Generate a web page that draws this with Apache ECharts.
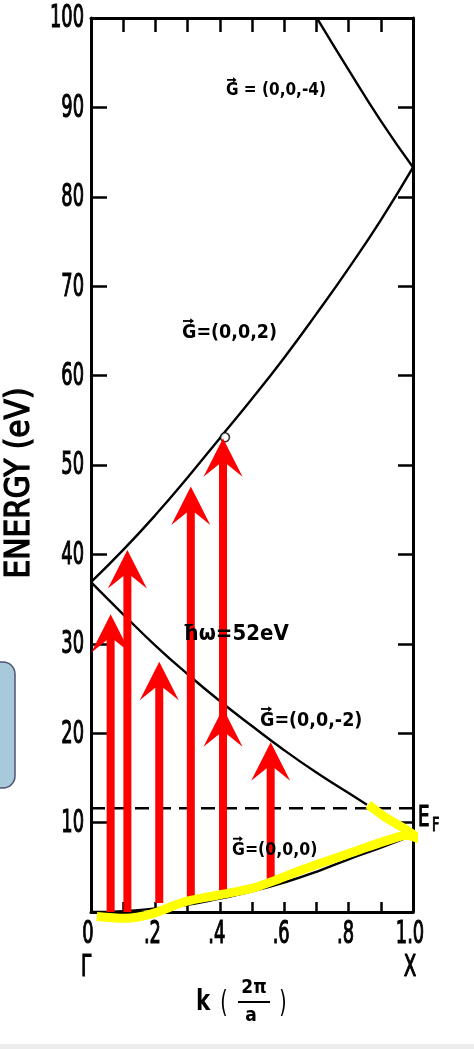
<!DOCTYPE html>
<html>
<head>
<meta charset="utf-8">
<script src="https://cdn.jsdelivr.net/npm/echarts@6/dist/echarts.min.js"></script>
<style>
  html, body { margin: 0; padding: 0; background: #fff; }
  #chart { width: 474px; height: 1049px; }
</style>
</head>
<body>
<div id="chart"></div>
<script>
// Free-electron bands along Γ–X; k in units of 2π/a, energies in eV.
const kGrid = [0, 0.1, 0.2, 0.3, 0.4, 0.5, 0.6, 0.7, 0.8, 0.9, 1.0];
const bandG000 = [0, 0.1, 0.4, 0.8, 1.5, 2.3, 3.3, 4.5, 5.9, 7.2, 8.6];
const bandG002 = [36.9, 40.5, 44.4, 48.6, 53.0, 57.4, 62.0, 66.9, 72.0, 77.4, 83.3];
const bandG00m2K = [0, 0.1, 0.2, 0.3, 0.4, 0.5, 0.6, 0.7, 0.8, 0.857];
const bandG00m2 = [36.9, 33.3, 29.8, 26.6, 23.6, 20.8, 18.1, 15.6, 13.3, 12.0];
const bandG00m4K = [0.705, 0.8, 0.9, 1.0];
const bandG00m4 = [99.8, 94.2, 88.5, 83.3];
const fermiEnergy = 11.6;
const markedPoint = [0.416, 53.1];

// Vertical transitions (hω = 52 eV)
const arrowK = [0.061, 0.113, 0.212, 0.310, 0.410, 0.558];
const arrowFrom = [0, 0, 1.0, 1.3, 2.1, 3.6];
const arrowTo = [33.3, 40.5, 28.0, 47.6, 53.0, 19.0];
const midHeadK = [0.410];
const midHeadE = [22.8];

// Highlighted occupied band (hand-drawn stroke)
const occK = [0.018, 0.106, 0.188, 0.292, 0.395, 0.499, 0.561, 0.654, 0.758, 0.861, 0.954, 0.985];
const occE = [-0.5, -0.7, -0.2, 1.15, 1.9, 2.65, 3.4, 4.7, 6.0, 7.3, 8.4, 8.6];
const hookK = [0.985, 1.025, 0.975, 0.913, 0.861];
const hookE = [8.6, 8.1, 9.3, 10.6, 12.0];

// Tick labels
const xTickValues = [0, 0.2, 0.4, 0.6, 0.8, 1.0];
const xTickText = ['0', '.2', '.4', '.6', '.8', '1.0'];
const yTickValues = [10, 20, 30, 40, 50, 60, 70, 80, 90, 100];
const yTickText = ['10', '20', '30', '40', '50', '60', '70', '80', '90', '100'];

const pairs = (xs, ys) => xs.map((x, i) => [x, ys[i]]);

const condFont = "'DejaVu Sans Condensed', 'DejaVu Sans', sans-serif";
const RED = '#ff0000';

const chart = echarts.init(document.getElementById('chart'), null, { renderer: 'canvas' });

const blackLine = { color: '#000', width: 2.4 };

function arrowShape(x, yTip, yBase, withShaft) {
  const hw = 4, headL = 38.5, headW = 19.5, notch = 26;
  const kids = [];
  if (withShaft) {
    kids.push({
      type: 'rect',
      shape: { x: x - hw, y: yTip + notch - 2, width: hw * 2, height: yBase - (yTip + notch - 2) },
      style: { fill: RED }
    });
  }
  kids.push({
    type: 'polygon',
    shape: { points: [[x, yTip], [x + headW, yTip + headL], [x + hw, yTip + notch], [x - hw, yTip + notch], [x - headW, yTip + headL]] },
    style: { fill: RED }
  });
  return kids;
}

function txt(text, x, y, size, opts) {
  opts = opts || {};
  const style = {
    text: text, fill: '#000',
    fontSize: size, fontWeight: opts.weight || 'normal', fontFamily: opts.family || condFont,
    align: opts.align || 'center', verticalAlign: 'middle', rich: opts.rich
  };
  if (opts.heavy) {
    style.stroke = '#000';
    style.lineWidth = opts.heavy;
  }
  return { type: 'text', x: x, y: y, rotation: opts.rotation || 0, scaleX: opts.scaleX || 1, z: 5, style: style };
}

// "G" with an over-arrow followed by the reciprocal-lattice vector
function gLabel(text, x, y, size) {
  const ay = y - size * 0.36 - 5;
  return [
    txt(text, x, y, size, { weight: 'bold', align: 'left' }),
    { type: 'line', shape: { x1: x + 1, y1: ay, x2: x + size * 0.5, y2: ay }, style: { stroke: '#000', lineWidth: 1.8 }, z: 5 },
    { type: 'polygon', shape: { points: [[x + size * 0.62, ay], [x + size * 0.42, ay - 2.8], [x + size * 0.42, ay + 2.8]] }, style: { fill: '#000' }, z: 5 }
  ];
}

const graphics = [
  // side tab at the left edge
  { type: 'rect', shape: { x: -14, y: 662, width: 29, height: 126, r: 12 }, style: { fill: '#a8c9da', stroke: '#4f5377', lineWidth: 1.5 } },
  // faint band along the bottom edge
  { type: 'rect', shape: { x: 0, y: 1044, width: 474, height: 5 }, style: { fill: '#ececec' } },
  // axis title (vertical)
  txt('ENERGY (eV)', 20, 483, 33, { rotation: Math.PI / 2, heavy: 1.2 }),
  // symmetry points
  txt('Γ', 86, 968, 31, { scaleX: 0.66, heavy: 1.2 }),
  txt('X', 410, 968, 31, { scaleX: 0.66, heavy: 1.2 }),
  // k (2π/a)
  txt('k', 203, 1003, 28, { weight: 'bold', scaleX: 0.85 }),
  txt('(', 224, 1004, 30, { scaleX: 0.7 }),
  txt('2π', 254, 988, 19, { weight: 'bold' }),
  { type: 'line', shape: { x1: 238, y1: 1002, x2: 270, y2: 1002 }, style: { stroke: '#000', lineWidth: 2 } },
  txt('a', 251, 1016, 19, { weight: 'bold' }),
  txt(')', 283, 1004, 30, { scaleX: 0.7 }),
  // Fermi level
  txt('E', 418, 818, 29, { align: 'left', scaleX: 0.7, heavy: 1.1 }),
  txt('F', 432, 826, 19, { align: 'left', scaleX: 0.75, heavy: 0.9 }),
  // photon energy
  txt('ħω=52eV', 183, 634, 22, { weight: 'bold', align: 'left' })
]
  .concat(gLabel('G = (0,0,-4)', 226, 91, 17))
  .concat(gLabel('G=(0,0,2)', 182, 333, 19.5))
  .concat(gLabel('G=(0,0,-2)', 260, 721, 19.5))
  .concat(gLabel('G=(0,0,0)', 232, 850, 17.5));

const option = {
  animation: false,
  backgroundColor: '#ffffff',
  grid: { left: 91, right: 61, top: 18, bottom: 137, containLabel: false },
  xAxis: [
    {
      type: 'value', position: 'bottom', min: 0, max: 1, interval: 0.1,
      axisLine: { show: true, onZero: false, lineStyle: { color: '#000', width: 3 } },
      axisTick: { show: true, inside: true, length: 10, lineStyle: { color: '#000', width: 2.5 } },
      axisLabel: { show: false },
      splitLine: { show: false }
    },
    {
      type: 'value', position: 'top', min: 0, max: 1, interval: 0.1,
      axisLine: { show: true, onZero: false, lineStyle: { color: '#000', width: 3 } },
      axisTick: { show: true, inside: true, length: 14, lineStyle: { color: '#000', width: 2.5 } },
      axisLabel: { show: false },
      splitLine: { show: false }
    }
  ],
  yAxis: [
    {
      type: 'value', position: 'left', min: 0, max: 100, interval: 10,
      axisLine: { show: true, onZero: false, lineStyle: { color: '#000', width: 3 } },
      axisTick: { show: true, inside: true, length: 16, lineStyle: { color: '#000', width: 2.5 } },
      axisLabel: { show: false },
      splitLine: { show: false }
    },
    {
      type: 'value', position: 'right', min: 0, max: 100, interval: 10,
      axisLine: { show: true, onZero: false, lineStyle: { color: '#000', width: 3 } },
      axisTick: { show: true, inside: true, length: 15, lineStyle: { color: '#000', width: 2.5 } },
      axisLabel: { show: false },
      splitLine: { show: false }
    }
  ],
  graphic: graphics,
  series: [
    { name: 'G=(0,0,0)', type: 'line', data: pairs(kGrid, bandG000), smooth: true, showSymbol: false, lineStyle: blackLine, z: 2 },
    { name: 'G=(0,0,2)', type: 'line', data: pairs(kGrid, bandG002), smooth: true, showSymbol: false, lineStyle: blackLine, z: 2 },
    { name: 'G=(0,0,-2)', type: 'line', data: pairs(bandG00m2K, bandG00m2), smooth: true, showSymbol: false, lineStyle: blackLine, z: 2 },
    { name: 'G=(0,0,-4)', type: 'line', data: pairs(bandG00m4K, bandG00m4), smooth: true, showSymbol: false, lineStyle: blackLine, z: 2 },
    { name: 'EF', type: 'line', data: [[0, fermiEnergy], [1, fermiEnergy]], showSymbol: false,
      lineStyle: { color: '#000', width: 2.4, type: [14, 8] }, z: 2 },
    { name: 'point', type: 'scatter', data: [markedPoint], symbol: 'circle', symbolSize: 9,
      itemStyle: { color: '#fff', borderColor: '#000', borderWidth: 1.6 }, z: 3 },
    {
      name: 'transitions', type: 'custom', z: 4, clip: false,
      data: arrowK.map((k, i) => [k, arrowFrom[i], arrowTo[i]]),
      renderItem: function (params, api) {
        const b = api.coord([api.value(0), api.value(1)]);
        const t = api.coord([api.value(0), api.value(2)]);
        return { type: 'group', children: arrowShape(t[0], t[1], b[1], true) };
      }
    },
    {
      name: 'midHeads', type: 'custom', z: 4, clip: false,
      data: midHeadK.map((k, i) => [k, midHeadE[i]]),
      renderItem: function (params, api) {
        const t = api.coord([api.value(0), api.value(1)]);
        return { type: 'group', children: arrowShape(t[0], t[1], 0, false) };
      }
    },
    { name: 'occupied', type: 'line', data: pairs(occK, occE), smooth: 0.35, showSymbol: false, clip: false,
      lineStyle: { color: '#ffff00', width: 9, cap: 'butt', join: 'round' }, z: 6 },
    { name: 'occupiedHook', type: 'line', data: pairs(hookK, hookE), smooth: false, showSymbol: false, clip: false,
      lineStyle: { color: '#ffff00', width: 9, cap: 'butt', join: 'miter' }, z: 6 }
  ]
};

chart.setOption(option);

// Tick labels in a narrow face, placed through the axis scales
const tickLabels = [];
xTickValues.forEach(function (v, i) {
  const p = chart.convertToPixel({ gridIndex: 0 }, [v, 0]);
  tickLabels.push(txt(xTickText[i], p[0] - 3, p[1] + 23, 32, { scaleX: 0.62, heavy: 1.1 }));
});
yTickValues.forEach(function (v, i) {
  const p = chart.convertToPixel({ gridIndex: 0 }, [0, v]);
  tickLabels.push(txt(yTickText[i], p[0] - 7, p[1] + 1, 32, { scaleX: 0.62, heavy: 1.1, align: 'right' }));
});
chart.setOption({ graphic: graphics.concat(tickLabels) });
</script>
</body>
</html>
